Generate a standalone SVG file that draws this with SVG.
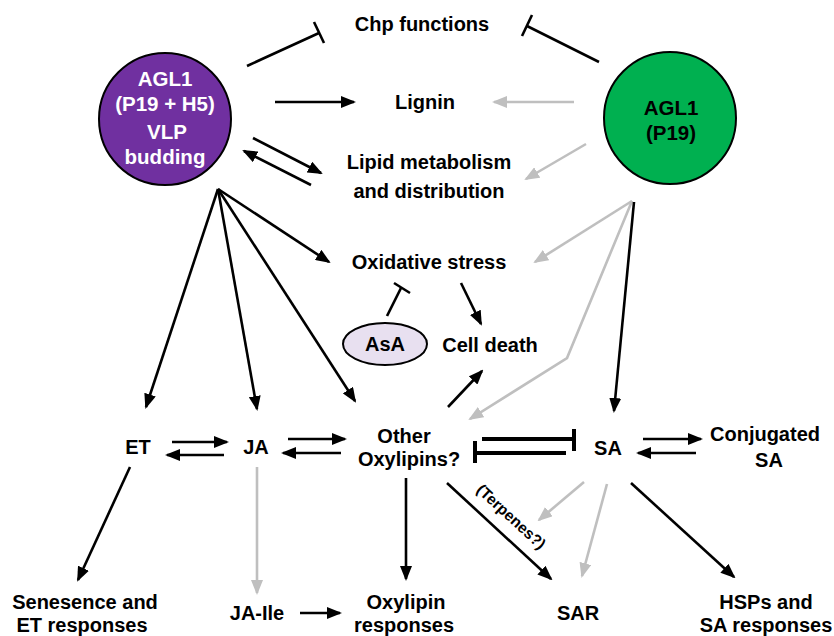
<svg xmlns="http://www.w3.org/2000/svg" width="834" height="636" viewBox="0 0 834 636">
<defs>
<style>
text{font-family:"Liberation Sans",Arial,sans-serif;font-weight:bold;font-size:20px;text-anchor:middle;fill:#000}
.w{fill:#fff;font-size:20.5px}
.k{stroke:#000;stroke-width:2.6;fill:none}
.g{stroke:#bfbfbf;stroke-width:2.6;fill:none}
.t{stroke:#000;stroke-width:4;fill:none}
.ka{marker-end:url(#ab)}
.ga{marker-end:url(#ag)}
</style>
<marker id="ab" markerUnits="userSpaceOnUse" markerWidth="15" markerHeight="12" refX="13" refY="6" orient="auto"><path d="M0,0 L15,6 L0,12 z" fill="#000"/></marker>
<marker id="ag" markerUnits="userSpaceOnUse" markerWidth="15" markerHeight="12" refX="13" refY="6" orient="auto"><path d="M0,0 L15,6 L0,12 z" fill="#bfbfbf"/></marker>
</defs>
<rect width="834" height="636" fill="#fff"/>

<g id="agl1-purple">
<circle cx="165" cy="119" r="66" fill="#7030a0" stroke="#000" stroke-width="2"/>
<text class="w" x="165" y="86">AGL1</text>
<text class="w" x="165" y="111">(P19 + H5)</text>
<text class="w" x="167" y="139">VLP</text>
<text class="w" x="165" y="164">budding</text>
</g>
<g id="agl1-green">
<circle cx="670" cy="118" r="66" fill="#00b050" stroke="#000" stroke-width="2"/>
<text class="w" x="671" y="115" style="fill:#000">AGL1</text>
<text class="w" x="671" y="140" style="fill:#000">(P19)</text>
</g>
<g id="chp"><text x="422" y="31">Chp functions</text></g>
<g id="lignin"><text x="425" y="109">Lignin</text></g>
<g id="lipid"><text x="429" y="169">Lipid metabolism</text><text x="429" y="198">and distribution</text></g>
<g id="oxstress"><text x="429" y="269">Oxidative stress</text></g>
<g id="asa">
<ellipse cx="385" cy="344" rx="42" ry="21" fill="#e8e0f0" stroke="#000" stroke-width="2"/>
<text x="385" y="351">AsA</text>
</g>
<g id="celldeath"><text x="490" y="352">Cell death</text></g>
<g id="et"><text x="138" y="454">ET</text></g>
<g id="ja"><text x="256" y="454">JA</text></g>
<g id="other"><text x="404" y="443">Other</text><text x="409" y="466">Oxylipins?</text></g>
<g id="sa"><text x="608" y="455">SA</text></g>
<g id="conj"><text x="765" y="441">Conjugated</text><text x="769" y="467">SA</text></g>
<g id="senes"><text x="85" y="609">Senesence and</text><text x="82" y="632">ET responses</text></g>
<g id="jaile"><text x="257" y="620">JA-Ile</text></g>
<g id="oxyresp"><text x="406" y="609">Oxylipin</text><text x="404" y="632">responses</text></g>
<g id="sar"><text x="578" y="620">SAR</text></g>
<g id="hsps"><text x="766" y="609">HSPs and</text><text x="766" y="632">SA responses</text></g>

<g id="connectors">
<line class="k" x1="247" y1="66" x2="319" y2="33"/>
<line class="k" x1="314" y1="22" x2="324" y2="43"/>
<line class="k" x1="599" y1="62" x2="527" y2="26"/>
<line class="k" x1="532" y1="15" x2="522" y2="36"/>
<line class="k ka" x1="275" y1="102" x2="354" y2="102"/>
<line class="g ga" x1="574" y1="102" x2="494" y2="102"/>
<line class="k ka" x1="253" y1="138" x2="321" y2="173"/>
<line class="k ka" x1="311" y1="185" x2="244" y2="151"/>
<line class="g ga" x1="586" y1="144" x2="526" y2="179"/>
<line class="k ka" x1="218" y1="189" x2="329" y2="262"/>
<line class="k ka" x1="218" y1="189" x2="146" y2="407"/>
<line class="k ka" x1="218" y1="189" x2="257" y2="409"/>
<line class="k ka" x1="218" y1="189" x2="355" y2="401"/>
<line class="g ga" x1="632" y1="201" x2="535" y2="262"/>
<polyline class="g ga" points="632,201 567,358 470,419"/>
<line class="k ka" x1="634" y1="202" x2="614" y2="411"/>
<line class="k" x1="387" y1="316" x2="401" y2="288"/>
<line class="k" x1="394" y1="283" x2="410" y2="293"/>
<line class="k ka" x1="461" y1="283" x2="481" y2="324"/>
<line class="k ka" x1="448" y1="407" x2="482" y2="371"/>
<line class="k ka" x1="172" y1="442" x2="227" y2="442"/>
<line class="k ka" x1="224" y1="455" x2="167" y2="455"/>
<line class="k ka" x1="288" y1="439" x2="345" y2="439"/>
<line class="k ka" x1="341" y1="453" x2="283" y2="453"/>
<line class="t" x1="482" y1="439" x2="574" y2="439"/>
<line class="t" x1="574" y1="429" x2="574" y2="451"/>
<line class="t" x1="566" y1="453" x2="475" y2="453"/>
<line class="t" x1="475" y1="441" x2="475" y2="463"/>
<line class="k ka" x1="643" y1="439" x2="701" y2="439"/>
<line class="k ka" x1="696" y1="453" x2="638" y2="453"/>
<line class="k ka" x1="130" y1="467" x2="78" y2="580"/>
<line class="g ga" x1="257" y1="467" x2="257" y2="593"/>
<line class="k ka" x1="300" y1="613" x2="340" y2="613"/>
<line class="k ka" x1="406" y1="478" x2="406" y2="579"/>
<line class="k ka" x1="447" y1="483" x2="551" y2="579"/>
<text x="511" y="522" transform="rotate(42.7 511 517)" style="font-size:15.5px">(Terpenes?)</text>
<line class="g ga" x1="584" y1="482" x2="539" y2="520"/>
<line class="g ga" x1="607" y1="484" x2="582" y2="576"/>
<line class="k ka" x1="631" y1="483" x2="734" y2="577"/>
</g>
</svg>
